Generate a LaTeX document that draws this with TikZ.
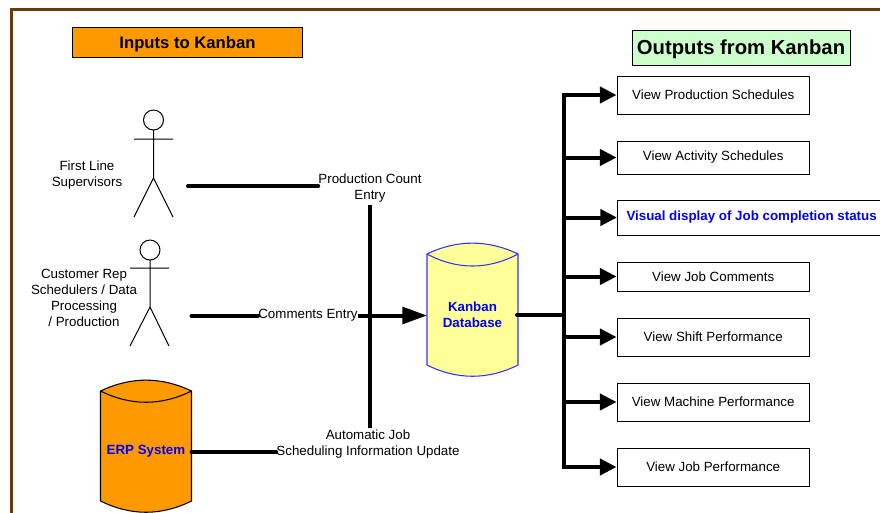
\documentclass[tikz,border=0pt]{standalone}
\usepackage{fontspec}
\setmainfont{Liberation Sans}
\usetikzlibrary{arrows.meta}
\definecolor{framebrown}{HTML}{6B3A0A}
\definecolor{orangefill}{HTML}{FF9900}
\definecolor{greenfill}{HTML}{CCFFCC}
\definecolor{yellowfill}{HTML}{FFFF99}
\definecolor{dbblue}{HTML}{3333FF}
\tikzset{
  px/.style={x=0.75pt,y=-0.75pt},
  outbox/.style={draw=black,line width=0.75pt,fill=white,inner sep=0pt,minimum width=144.2pt,font=\fontsize{10}{12}\selectfont,text=black},
  titlebox/.style={draw=black,line width=0.75pt,inner sep=0pt,font=\bfseries},
  label/.style={inner sep=0pt,align=center,font=\fontsize{10}{12}\selectfont},
  thick line/.style={line width=3pt,line cap=round},
  arrow line/.style={line width=3pt,-{Triangle[length=12.5pt,width=12pt]}},
  big arrow/.style={line width=3pt,-{Triangle[length=18.5pt,width=12.5pt]}},
  stick/.style={draw=black,line width=0.75pt},
  cylcap/.style={line width=0.8pt},
  dbtext/.style={inner sep=0pt,align=center,text=blue,font=\fontsize{10}{12}\selectfont\bfseries,minimum width=68pt,minimum height=40pt},
}
\begin{document}
\begin{tikzpicture}[px]
\useasboundingbox (0,0) rectangle (880,512);
\fill[white] (0,0) rectangle (880,512);
% frame
\draw[framebrown,line width=2.4pt] (11.5,516) -- (11.5,9.5) -- (884,9.5);
% titles
\node[titlebox,fill=orangefill,minimum width=173pt,minimum height=22.5pt,font=\fontsize{12.5}{15}\selectfont\bfseries] (inputs) at (187.5,42) {\raisebox{-4.5pt}[0pt][0pt]{Inputs to Kanban}};
\node[titlebox,fill=greenfill,minimum width=163.5pt,minimum height=26.25pt,font=\fontsize{15.2}{18}\selectfont\bfseries] (outputs) at (741,47.5) {\raisebox{-5.5pt}[0pt][0pt]{Outputs from Kanban}};
% actors
\draw[stick] (153.5,120) circle (10);
\draw[stick] (153.5,130) -- (153.5,178) (134,139) -- (173,139) (134,217) -- (153.5,178) -- (173,217);
\draw[stick] (150,250) circle (10);
\draw[stick] (150,260) -- (150,307) (130,268) -- (169,268) (130,346) -- (150,307) -- (169,346);
\node[label] (firstline) at (87,175) {First Line\\Supervisors};
\node[label] (customer) at (84,298) {Customer Rep\\Schedulers / Data\\Processing\\/ Production};
% cylinders
\draw[fill=yellowfill,draw=dbblue,cylcap] (427,254) .. controls (457,239.5) and (488,239.5) .. (518,254) -- (518,365) .. controls (488,380) and (457,380) .. (427,365) -- cycle;
\draw[draw=dbblue,cylcap] (427,254) .. controls (457,270) and (488,270) .. (518,254);
\draw[fill=orangefill,draw=black,cylcap] (100.5,391) .. controls (131,376.5) and (161,376.5) .. (191.5,391) -- (191.5,501) .. controls (161,516) and (131,516) .. (100.5,501) -- cycle;
\draw[draw=black,cylcap] (100.5,391) .. controls (131,406) and (161,406) .. (191.5,391);
\node[dbtext] (kanban) at (472.5,314.5) {Kanban\\Database};
\node[dbtext] (erp) at (146,451.5) {ERP System};
% connector labels
\node[label] (prodcount) at (370,188) {Production Count\\Entry};
\node[label] (comments) at (308,315) {Comments Entry};
\node[label] (autojob) at (368,444) {Automatic Job\\Scheduling Information Update};
% free ends and junctions
\coordinate (a1) at (188,186);
\coordinate (a2) at (191.5,315.5);
\coordinate (busin) at (517,315);
\coordinate (bustop) at (564,95);
\coordinate (busbot) at (564,467);
\coordinate (vtop) at (370,205);
\coordinate (vbot) at (370,428);
\coordinate (vmid) at (370,315.5);
% output boxes
\node[outbox,minimum height=28.5pt] (o1) at (713.2,95) {View Production Schedules};
\node[outbox,minimum height=24.75pt] (o2) at (713.2,157.5) {View Activity Schedules};
\node[outbox,minimum height=26.25pt,anchor=west,text=blue,font=\fontsize{10}{12}\selectfont\bfseries] (o3) at (617,217.5) {\makebox[200pt][l]{\hspace{6.75pt}Visual display of Job completion status}};
\node[outbox,minimum height=21.75pt] (o4) at (713.2,276.5) {View Job Comments};
\node[outbox,minimum height=28.5pt] (o5) at (713.2,337) {View Shift Performance};
\node[outbox,minimum height=28.5pt] (o6) at (713.2,402) {View Machine Performance};
\node[outbox,minimum height=28.5pt] (o7) at (713.2,467) {View Job Performance};
% connectors
\draw[thick line] (a1) -- (prodcount.west |- a1);
\draw[thick line] (a2) -- (comments.west |- a2);
\draw[thick line] (erp.east |- 0,452) -- (autojob.west |- 0,452);
\draw[line width=3pt] (vtop) -- (vbot);
\draw[big arrow] (comments.east |- vmid) -- (427,315.5);
\draw[thick line] (busin) -- (564,315);
\draw[line width=3pt,line cap=rect] (bustop) -- (busbot);
\foreach \t in {o1,o2,o3,o4,o5,o6,o7}{
  \draw[arrow line] (564,0 |- \t.west) -- (\t.west);
}
\end{tikzpicture}
\end{document}
